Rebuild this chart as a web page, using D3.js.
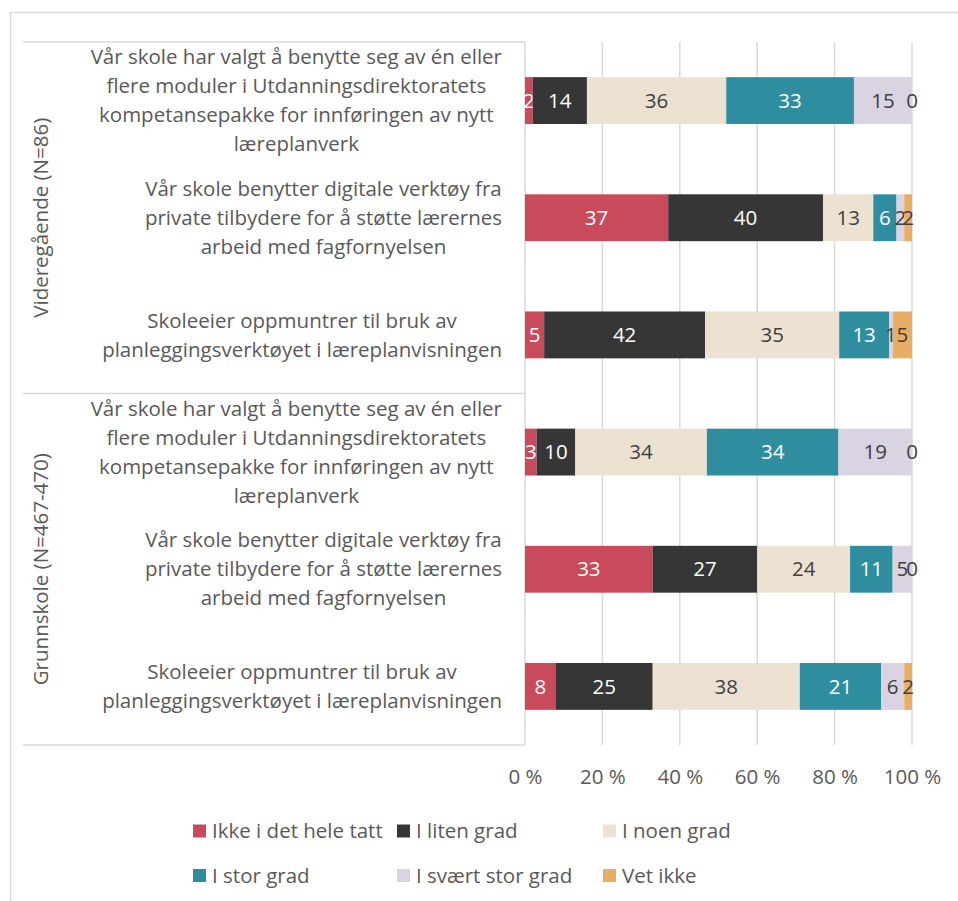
<!DOCTYPE html>
<html>
<head>
<meta charset="utf-8">
<script src="https://cdn.jsdelivr.net/npm/d3@7"></script>
<style>
  body { margin: 0; background: #fff; }
  svg text { font-family: "Open Sans", sans-serif; }
</style>
</head>
<body>
<div id="chart"></div>
<script>
const SERIES = ["Ikke i det hele tatt", "I liten grad", "I noen grad", "I stor grad", "I svært stor grad", "Vet ikke"];
const COLORS = ["#C84A5B", "#363636", "#EDE1D2", "#2E8E9F", "#DAD3E1", "#E9AD63"];
const LABEL_COLORS = ["#fff", "#fff", "#404040", "#fff", "#404040", "#404040"];

const GROUPS = ["Videregående (N=86)", "Grunnskole (N=467-470)"];
const STATEMENTS = [
    "Vår skole har valgt å benytte seg av én eller\nflere moduler i Utdanningsdirektoratets\nkompetansepakke for innføringen av nytt\nlæreplanverk",
    "Vår skole benytter digitale verktøy fra\nprivate tilbydere for å støtte lærernes\narbeid med fagfornyelsen",
    "Skoleeier oppmuntrer til bruk av\nplanleggingsverktøyet i læreplanvisningen",
];

// values per row, in SERIES order
const VGS_VALUES = [
    [2, 14, 36, 33, 15, 0],
    [37, 40, 13, 6, 2, 2],
    [5, 42, 35, 13, 1, 5],
];
const GS_VALUES = [
    [3, 10, 34, 34, 19, 0],
    [33, 27, 24, 11, 5, 0],
    [8, 25, 38, 21, 6, 2],
];
const TICKS = [0, 0.2, 0.4, 0.6, 0.8, 1];

/* ---------------------------------- */
const W = 958, H = 901;
const PLOT = {left: 525, right: 912, top: 42, bottom: 745};
const FONT = 20.5;
const TEXT_GREY = "#595959";
const LINE_GREY = "#D9D9D9";

var rows = [];
[VGS_VALUES, GS_VALUES].forEach(function(vals, g){
    vals.forEach(function(v, i){
        var r = {key: g+"-"+i, group: g, label: STATEMENTS[i]};
        SERIES.forEach((s, j) => { r[s] = v[j]; });
        rows.push(r);
    });
});

var stack = d3.stack().keys(SERIES).offset(d3.stackOffsetExpand)(rows);

var x = d3.scaleLinear().domain([0, 1]).range([PLOT.left, PLOT.right]);
var y = d3.scaleBand()
          .domain(rows.map((d) => d.key))
          .range([PLOT.top, PLOT.bottom])
          .paddingInner(0.6)
          .paddingOuter(0.3);

var svg = d3.select("#chart").append("svg")
            .attr("width", W)
            .attr("height", H);

// outer chart border
svg.append("rect")
   .attr("x", 10.5).attr("y", 12.5)
   .attr("width", W + 20).attr("height", H + 20)
   .attr("fill", "none")
   .attr("stroke", LINE_GREY)
   .attr("stroke-width", 1.5);

// gridlines
svg.append("g")
   .selectAll("line")
   .data(TICKS)
   .enter()
   .append("line")
   .attr("x1", (d) => x(d)).attr("x2", (d) => x(d))
   .attr("y1", PLOT.top).attr("y2", PLOT.bottom)
   .attr("stroke", LINE_GREY)
   .attr("stroke-width", 1.5);

// group box lines
var groupEdges = [PLOT.top, (y("0-2") + y("1-0") + y.bandwidth())/2, PLOT.bottom];
svg.append("g")
   .selectAll("line")
   .data(groupEdges)
   .enter()
   .append("line")
   .attr("x1", 23).attr("x2", PLOT.left)
   .attr("y1", (d) => d).attr("y2", (d) => d)
   .attr("stroke", LINE_GREY)
   .attr("stroke-width", 1.5);

// group labels
svg.append("g")
   .selectAll("text")
   .data(GROUPS)
   .enter()
   .append("text")
   .attr("transform", (d, i) => "translate(48," + ((groupEdges[i] + groupEdges[i+1])/2) + ") rotate(-90)")
   .attr("text-anchor", "middle")
   .attr("fill", TEXT_GREY)
   .attr("font-size", FONT)
   .text((d) => d);

// statement labels: lines centered, block right-aligned
var LINE_H = 29;
var labG = svg.append("g");
rows.forEach(function(r){
    var lines = r.label.split("\n");
    var g = labG.append("g");
    var ts = g.selectAll("text")
              .data(lines)
              .enter()
              .append("text")
              .attr("text-anchor", "middle")
              .attr("fill", TEXT_GREY)
              .attr("font-size", FONT)
              .attr("dy", "0.35em")
              .attr("y", (d, i) => y(r.key) + y.bandwidth()/2 + (i - (lines.length-1)/2)*LINE_H)
              .text((d) => d);
    var maxW = d3.max(ts.nodes(), (n) => n.getComputedTextLength());
    ts.attr("x", 502 - maxW/2);
});

// bars
var layers = svg.append("g")
                .selectAll("g.layer")
                .data(stack)
                .enter()
                .append("g")
                .classed("layer", true);
layers.selectAll("rect")
      .data((d) => d)
      .enter()
      .append("rect")
      .attr("x", (d) => x(d[0]))
      .attr("y", (d) => y(d.data.key))
      .attr("width", (d) => Math.max(0, x(d[1]) - x(d[0])))
      .attr("height", y.bandwidth())
      .attr("fill", function(){ return COLORS[d3.select(this.parentNode).datum().index]; });

layers.selectAll("text")
      .data((d) => d)
      .enter()
      .append("text")
      .attr("x", (d) => (x(d[0]) + x(d[1]))/2)
      .attr("y", (d) => y(d.data.key) + y.bandwidth()/2)
      .attr("dy", "0.35em")
      .attr("text-anchor", "middle")
      .attr("font-size", FONT)
      .attr("fill", function(){ return LABEL_COLORS[d3.select(this.parentNode).datum().index]; })
      .text(function(d){ return d.data[d3.select(this.parentNode).datum().key]; });

// x axis
var axis = svg.append("g")
              .attr("transform", "translate(0," + (PLOT.bottom + 32) + ")")
              .call(d3.axisBottom(x).tickValues(TICKS).tickFormat((d) => Math.round(d*100) + " %").tickSize(0));
axis.select(".domain").remove();
axis.selectAll("text")
    .attr("y", 0)
    .attr("dy", "0.35em")
    .attr("font-size", FONT)
    .attr("font-family", "Open Sans, sans-serif")
    .attr("fill", TEXT_GREY);

// legend
var LEG_X = [193, 397, 603], LEG_Y = [831, 875.5];
var leg = svg.append("g")
             .selectAll("g")
             .data(SERIES)
             .enter()
             .append("g")
             .attr("transform", (d, i) => "translate(" + LEG_X[i % 3] + "," + LEG_Y[Math.floor(i/3)] + ")");
leg.append("rect")
   .attr("x", 0).attr("y", -6.5)
   .attr("width", 13).attr("height", 13)
   .attr("fill", (d, i) => COLORS[i]);
leg.append("text")
   .attr("x", 19)
   .attr("dy", "0.35em")
   .attr("font-size", FONT)
   .attr("fill", TEXT_GREY)
   .text((d) => d);
</script>
</body>
</html>
